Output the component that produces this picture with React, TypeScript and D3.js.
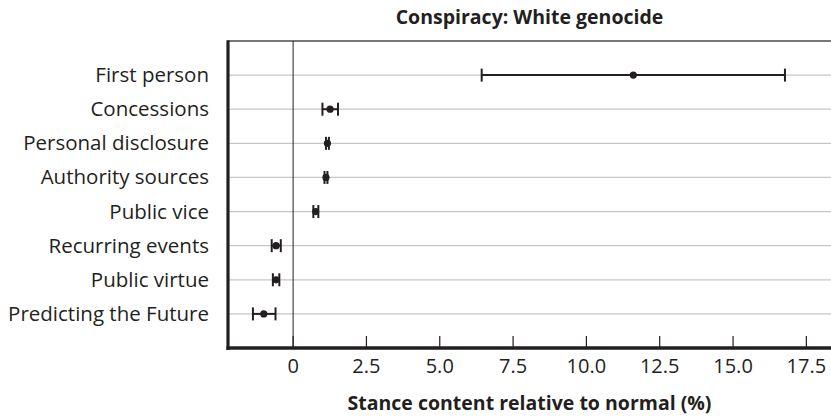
import React from "react";
import * as d3 from "d3";

const categories = [
  "First person",
  "Concessions",
  "Personal disclosure",
  "Authority sources",
  "Public vice",
  "Recurring events",
  "Public virtue",
  "Predicting the Future",
];
const estimates = [11.6, 1.26, 1.17, 1.12, 0.77, -0.58, -0.58, -1.0];
const lower = [6.43, 1.0, 1.12, 1.07, 0.69, -0.73, -0.69, -1.37];
const upper = [16.77, 1.53, 1.22, 1.17, 0.86, -0.42, -0.47, -0.6];
const xTicks = [0, 2.5, 5.0, 7.5, 10.0, 12.5, 15.0, 17.5];

const title = "Conspiracy: White genocide";
const xLabel = "Stance content relative to normal (%)";

const W = 831;
const H = 416;
const left = 228;
const right = 831;
const top = 41;
const bottom = 348;
const ink = "#231f20";
const font = "'Open Sans', 'Noto Sans', sans-serif";

export default function App() {
  const x = d3.scaleLinear().domain([-2.22, 18.34]).range([left, right]);
  const y = d3.scalePoint<string>().domain(categories).range([top, bottom]).padding(1);
  const mid = (left + right) / 2;

  return (
    <svg
      width={W}
      height={H}
      style={{ position: "absolute", left: 0, top: 0, background: "#fff" }}
      fontFamily={font}
    >
      <text x={mid} y={24} textAnchor="middle" fontSize={19.5} fontWeight="bold" fill={ink}>
        {title}
      </text>
      {/* gridlines */}
      {categories.map((c) => (
        <line key={c} x1={left} x2={right} y1={y(c)} y2={y(c)} stroke="#c6c6c6" strokeWidth={1.3} />
      ))}
      {/* top border */}
      <line x1={left} x2={right} y1={top} y2={top} stroke="#4a4a4a" strokeWidth={1.5} />
      {/* zero line */}
      <line x1={x(0)} x2={x(0)} y1={top} y2={bottom} stroke={ink} strokeWidth={1} />
      {/* ticks */}
      {xTicks.map((t) => (
        <g key={t}>
          <line x1={x(t)} x2={x(t)} y1={bottom - 12} y2={bottom} stroke={ink} strokeWidth={1.2} />
          <text x={x(t)} y={373} textAnchor="middle" fontSize={20} fill={ink}>
            {t === 0 ? "0" : t.toFixed(1)}
          </text>
        </g>
      ))}
      {/* error bars */}
      {categories.map((c, i) => {
        const cy = y(c) as number;
        return (
          <g key={c} stroke={ink} strokeWidth={2}>
            <line x1={x(lower[i])} x2={x(upper[i])} y1={cy} y2={cy} />
            <line x1={x(lower[i])} x2={x(lower[i])} y1={cy - 6.5} y2={cy + 6.5} />
            <line x1={x(upper[i])} x2={x(upper[i])} y1={cy - 6.5} y2={cy + 6.5} />
            <circle cx={x(estimates[i])} cy={cy} r={3.6} fill={ink} stroke="none" />
          </g>
        );
      })}
      {/* axes */}
      <line x1={left} x2={left} y1={top - 0.75} y2={bottom + 2} stroke={ink} strokeWidth={3.2} />
      <line x1={left - 1.6} x2={right} y1={bottom} y2={bottom} stroke={ink} strokeWidth={3.5} />
      {/* category labels */}
      {categories.map((c) => (
        <text key={c} x={209} y={(y(c) as number) + 7} textAnchor="end" fontSize={20.5} fill={ink}>
          {c}
        </text>
      ))}
      <text x={mid} y={410} textAnchor="middle" fontSize={19.5} fontWeight="bold" fill={ink}>
        {xLabel}
      </text>
    </svg>
  );
}
